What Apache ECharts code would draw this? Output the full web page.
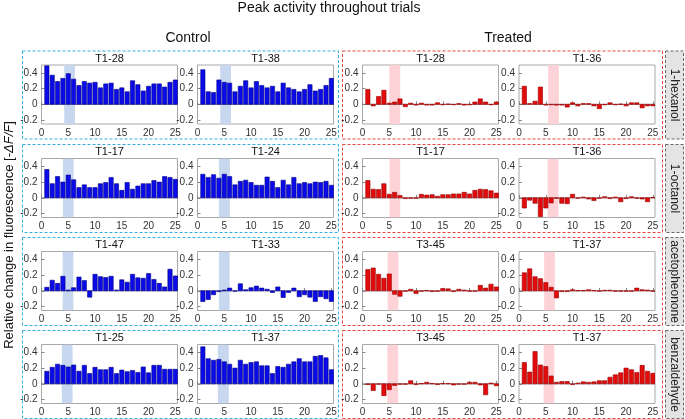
<!DOCTYPE html>
<html><head><meta charset="utf-8">
<script src="https://cdn.jsdelivr.net/npm/echarts@6/dist/echarts.min.js"></script>
<style>html,body{margin:0;padding:0;background:#fff}#c{width:685px;height:419px}</style>
</head><body><div id="c"></div>
<script>
// ---------- data ----------
const trials = [1,2,3,4,5,6,7,8,9,10,11,12,13,14,15,16,17,18,19,20,21,22,23,24,25];
const xTicks = [0,5,10,15,20,25];
const yTicks = [-0.2,0,0.2,0.4];
const odors = ['1-hexanol','1-octanol','acetopheonone','benzaldehyde'];
const controlTitles = [['T1-28','T1-38'],['T1-17','T1-24'],['T1-47','T1-33'],['T1-25','T1-37']];
const treatedTitles = [['T1-28','T1-36'],['T1-17','T1-36'],['T3-45','T1-37'],['T3-45','T1-37']];

const ctrlHexA = [0.49,0.37,0.29,0.33,0.39,0.32,0.24,0.29,0.27,0.28,0.21,0.26,0.27,0.19,0.21,0.16,0.30,0.25,0.17,0.23,0.26,0.26,0.22,0.28,0.31];
const ctrlHexB = [0.44,0.16,0.15,0.31,0.28,0.27,0.16,0.23,0.30,0.21,0.29,0.24,0.21,0.23,0.16,0.27,0.21,0.19,0.16,0.19,0.25,0.17,0.19,0.24,0.33];
const treatHexA = [0.19,-0.02,0.10,0.18,0.015,0.03,0.07,-0.03,0.015,-0.01,0.015,-0.01,-0.01,0.02,-0.005,0.005,-0.005,0.01,-0.01,0,0.03,0.07,0.03,0,0.03];
const treatHexB = [0.23,0.01,0.04,0.22,-0.01,0,-0.01,-0.01,-0.035,0.02,-0.02,0.01,0.01,-0.02,-0.055,0,0.02,0,0.005,-0.02,0.02,0.02,-0.045,-0.02,-0.02];

const ctrlOctA = [0.36,0.18,0.27,0.20,0.29,0.23,0.13,0.165,0.13,0.13,0.18,0.195,0.26,0.18,0.095,0.195,0.11,0.15,0.18,0.18,0.22,0.20,0.27,0.26,0.235];
const ctrlOctB = [0.30,0.26,0.295,0.25,0.30,0.27,0.165,0.21,0.225,0.195,0.16,0.16,0.265,0.21,0.13,0.225,0.165,0.26,0.18,0.195,0.18,0.20,0.195,0.21,0.16];
const treatOctA = [0.22,0.11,0.105,0.18,0.045,0.07,0.03,-0.01,0,0,0.045,0.035,0.04,0.02,0.04,0.04,0.05,0.05,0.07,0.05,0.095,0.11,0.105,0.09,0.06];
const treatOctB = [-0.13,-0.03,-0.07,-0.24,-0.13,-0.065,0,-0.07,-0.075,0.045,-0.005,0.01,-0.015,-0.035,0,0.015,-0.01,0.01,-0.05,-0.01,0.015,0,-0.015,-0.05,0.005];

const ctrlAceA = [0.045,0.135,0.095,0.185,0.01,0.04,0.175,0.13,-0.08,0.21,0.18,0.17,0.185,0.01,0.14,0.11,0.21,0.165,0.16,0.22,0.145,0.095,0.05,0.275,0.19];
const ctrlAceB = [-0.135,-0.11,-0.05,-0.01,0.01,0.035,-0.005,0.09,0.015,0.04,0.06,0.035,0.02,-0.02,0.05,-0.085,-0.02,0.035,-0.075,-0.05,-0.08,-0.135,-0.075,-0.10,-0.135];
const treatAceA = [0.27,0.29,0.21,0.16,0.215,-0.045,-0.07,0,0.02,-0.035,0,0.005,-0.01,0,0.03,0.025,-0.01,0.02,0.01,0,0,0.07,0.035,0.085,0.05];
const treatAceB = [0.23,0.28,0.18,0.155,0.105,0.045,-0.09,-0.01,-0.01,0.015,0.005,0.005,0.015,0.005,0,0.008,0.008,0,0,-0.005,0,0.035,0.015,0.01,0];

const ctrlBenA = [0.16,0.21,0.25,0.235,0.215,0.24,0.16,0.235,0.13,0.21,0.18,0.18,0.21,0.13,0.175,0.155,0.17,0.145,0.215,0.14,0.235,0.235,0.185,0.185,0.185];
const ctrlBenB = [0.47,0.32,0.30,0.31,0.28,0.25,0.20,0.30,0.25,0.27,0.28,0.23,0.23,0.13,0.22,0.21,0.25,0.28,0.32,0.28,0.28,0.35,0.36,0.33,0.18];
const treatBenA = [-0.01,-0.085,0,-0.15,-0.075,-0.02,0,-0.005,0.04,-0.01,0.005,0.02,0.005,-0.01,0.005,0.005,-0.015,0,0,0.02,0.02,-0.015,-0.14,0.01,-0.025];
const treatBenB = [0.27,0.15,0.41,0.24,0.22,0.10,0.02,0.03,0.03,-0.01,0.01,0.025,0.02,0.025,0.04,0.04,0.085,0.115,0.14,0.20,0.18,0.145,0.235,0.16,0.135];

// odor-presentation window (start trial, end trial) per panel
const ctrlBands = [[[4.25,6.25],[4.25,6.25]],[[4.0,6.0],[4.0,6.05]],[[3.95,5.95],[4.0,6.0]],[[3.8,5.8],[3.8,5.85]]];
const treatBands = [[[5.0,7.05],[5.45,7.45]],[[5.05,7.05],[5.35,7.35]],[[4.7,6.7],[4.7,6.7]],[[4.65,6.65],[4.6,6.6]]];

const ctrlData = [[ctrlHexA,ctrlHexB],[ctrlOctA,ctrlOctB],[ctrlAceA,ctrlAceB],[ctrlBenA,ctrlBenB]];
const treatData = [[treatHexA,treatHexB],[treatOctA,treatOctB],[treatAceA,treatAceB],[treatBenA,treatBenB]];

// ---------- layout ----------
const FONT = '"Liberation Sans", Arial, Helvetica, sans-serif';
const Y_MIN = -0.25, Y_MAX = 0.5, X_MIN = 0, X_MAX = 25.4;
const plotTops = [65, 158.5, 251.5, 344.5];
const PH = 59, PW = 136;
const plotLefts = [41.5, 197.5, 362.5, 519];
const COLORS = {
  ctrl: {fill:'#0b0be8', stroke:'#00008c', band:'#c7d7ef', box:'#35b0dc'},
  treat:{fill:'#e20c0c', stroke:'#9a0000', band:'#fdd3d7', box:'#e6443e'}
};

const chart = echarts.init(document.getElementById('c'), null, {renderer:'canvas'});
const grid = [], xAxis = [], yAxis = [], series = [], graphic = [];

function barRenderer(col){
  return function(params, api){
    const x = api.value(0), v = api.value(1);
    const p0 = api.coord([x - 0.4, Math.max(v, 0)]);
    const p1 = api.coord([x + 0.4, Math.min(v, 0)]);
    return {type:'rect', shape:{x:p0[0], y:p0[1], width:p1[0]-p0[0], height:Math.max(p1[1]-p0[1],0.5)},
      style:{fill:col.fill, stroke:col.stroke, lineWidth:0.6}};
  };
}
function bandRenderer(col){
  return function(params, api){
    const p0 = api.coord([api.value(0), Y_MAX]);
    const p1 = api.coord([api.value(1), Y_MIN]);
    return {type:'rect', shape:{x:p0[0], y:p0[1], width:p1[0]-p0[0], height:p1[1]-p0[1]}, style:{fill:col.band}};
  };
}

let gi = 0;
for (let r = 0; r < 4; r++) {
  for (let c = 0; c < 4; c++) {
    const isCtrl = c < 2;
    const col = isCtrl ? COLORS.ctrl : COLORS.treat;
    const vals = isCtrl ? ctrlData[r][c] : treatData[r][c-2];
    const band = isCtrl ? ctrlBands[r][c] : treatBands[r][c-2];
    const title = isCtrl ? controlTitles[r][c] : treatedTitles[r][c-2];
    grid.push({left:plotLefts[c], top:plotTops[r], width:PW, height:PH, show:true, borderColor:'#a8a8a8', borderWidth:1, backgroundColor:'#fff'});
    xAxis.push({type:'value', gridIndex:gi, min:X_MIN, max:X_MAX,
      axisLine:{show:false}, splitLine:{show:false},
      axisTick:{show:true, inside:true, length:3, customValues:xTicks, lineStyle:{color:'#888'}},
      axisLabel:{customValues:xTicks, fontSize:10, color:'#333', margin:4, fontFamily:FONT}});
    yAxis.push({type:'value', gridIndex:gi, min:Y_MIN, max:Y_MAX,
      axisLine:{show:false}, splitLine:{show:false},
      axisTick:{show:true, inside:true, length:3, customValues:yTicks, lineStyle:{color:'#888'}},
      axisLabel:{customValues:yTicks, fontSize:10, color:'#333', margin:4, fontFamily:FONT}});
    series.push({type:'custom', xAxisIndex:gi, yAxisIndex:gi, z:1, silent:true, clip:true,
      renderItem:bandRenderer(col), data:[[band[0], band[1]]]});
    series.push({type:'line', xAxisIndex:gi, yAxisIndex:gi, z:2, silent:true, symbol:'none',
      lineStyle:{color:'#707070', width:0.8}, data:[[X_MIN,0],[X_MAX,0]]});
    series.push({type:'custom', xAxisIndex:gi, yAxisIndex:gi, z:3, silent:true, clip:true,
      renderItem:barRenderer(col), data:trials.map((t,i)=>[t, vals[i]])});
    graphic.push({type:'text', x:plotLefts[c]+PW/2, y:plotTops[r]-6.5,
      style:{text:title, align:'center', verticalAlign:'middle', fontSize:11, fontFamily:FONT, fill:'#111'}});
    gi++;
  }
}

// dashed group boxes and odor labels
for (let r = 0; r < 4; r++) {
  const top = plotTops[r] - 14, h = 88;
  graphic.push({type:'rect', shape:{x:22.5, y:top, width:316, height:h},
    style:{fill:null, stroke:COLORS.ctrl.box, lineWidth:1, lineDash:[3,2]}, z:-1});
  graphic.push({type:'rect', shape:{x:342.5, y:top, width:320, height:h},
    style:{fill:null, stroke:COLORS.treat.box, lineWidth:1, lineDash:[3,2]}, z:-1});
  graphic.push({type:'rect', shape:{x:665.5, y:top, width:18, height:h},
    style:{fill:'#e4e4e4', stroke:'#666', lineWidth:1, lineDash:[3,2]}, z:-1});
  graphic.push({type:'text', x:674.5, y:top+h/2, rotation:-Math.PI/2,
    style:{text:odors[r], align:'center', verticalAlign:'middle', fontSize:12, fontFamily:FONT, fill:'#222'}});
}

graphic.push({type:'text', x:329, y:8.5,
  style:{text:'Peak activity throughout trials', align:'center', verticalAlign:'middle', fontSize:14, fontFamily:FONT, fill:'#111'}});
graphic.push({type:'text', x:188, y:38.5,
  style:{text:'Control', align:'center', verticalAlign:'middle', fontSize:14, fontFamily:FONT, fill:'#111'}});
graphic.push({type:'text', x:508, y:38.5,
  style:{text:'Treated', align:'center', verticalAlign:'middle', fontSize:14, fontFamily:FONT, fill:'#111'}});
graphic.push({type:'text', x:9, y:235, rotation:Math.PI/2,
  style:{text:'Relative change in fluorescence [-{i|ΔF/F}]', align:'center', verticalAlign:'middle',
    fontSize:13, fontFamily:FONT, fill:'#111', rich:{i:{fontStyle:'italic', fontSize:13, fontFamily:FONT, fill:'#111'}}}});

chart.setOption({animation:false, backgroundColor:'#fff', grid, xAxis, yAxis, series, graphic});
</script></body></html>
